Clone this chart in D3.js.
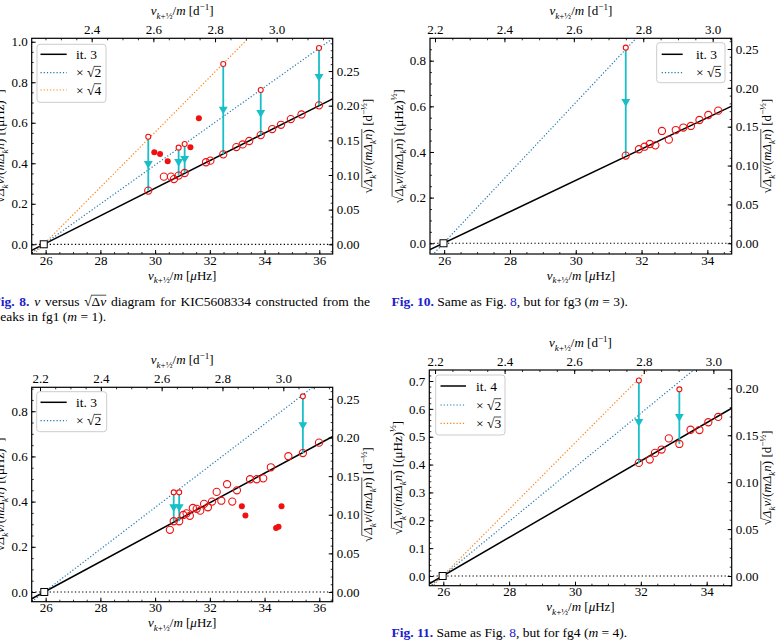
<!DOCTYPE html>
<html><head><meta charset="utf-8">
<script src="https://cdn.jsdelivr.net/npm/d3@7"></script>
<style>
body{margin:0;background:#fff;}
svg{display:block;}
</style></head><body>
<svg id="c" width="781" height="640"></svg>
<script>
// ---------- DATA ----------
// Fig. 8 : fg1 (m = 1)
const fg1OpenNu   = [29.75,30.32,30.58,30.69,30.86,31.08,31.86,32.02,32.49,32.97,33.20,33.44,33.86,34.28,34.60,34.96,35.35,35.99];
const fg1OpenY    = [0.265,0.334,0.334,0.322,0.339,0.352,0.405,0.413,0.444,0.480,0.493,0.510,0.539,0.569,0.590,0.618,0.641,0.686];
const fg1FilledNu = [29.97,30.18,30.46,31.29,31.60];
const fg1FilledY  = [0.454,0.446,0.410,0.479,0.622];
const fg1ArrowNu  = [29.75,30.86,31.08,32.49,33.86,35.99];
const fg1ArrowFrom= [0.531,0.477,0.495,0.890,0.762,0.969];
const fg1ArrowTo  = [0.265,0.339,0.352,0.444,0.539,0.686];
const fg1Fit      = {zero:25.93, slope:0.0680};
const fg1Mults    = [1,2,4];
const fg1Legend   = ["it. 3","2","4"];

// Fig. 10 : fg3 (m = 3)
const fg3OpenNu   = [31.52,31.92,32.09,32.25,32.42,32.62,32.83,33.04,33.27,33.50,33.76,34.03,34.33];
const fg3OpenY    = [0.384,0.412,0.423,0.435,0.429,0.492,0.454,0.496,0.507,0.514,0.540,0.562,0.581];
const fg3FilledNu = [];
const fg3FilledY  = [];
const fg3ArrowNu  = [31.52];
const fg3ArrowFrom= [0.857];
const fg3ArrowTo  = [0.384];
const fg3Fit      = {zero:25.98, slope:0.0686};
const fg3Mults    = [1,5];
const fg3Legend   = ["it. 3","5"];

// Fig. 9 : fg2 (m = 2)
const fg2OpenNu   = [30.54,30.68,30.88,31.03,31.15,31.27,31.38,31.52,31.65,31.79,31.93,32.08,32.25,32.42,32.63,32.82,32.99,33.47,33.71,33.95,34.23,34.87,35.40,35.99];
const fg2OpenY    = [0.275,0.313,0.313,0.341,0.348,0.337,0.372,0.368,0.360,0.390,0.375,0.400,0.443,0.404,0.477,0.400,0.450,0.499,0.499,0.503,0.552,0.601,0.615,0.661];
const fg2FilledNu = [33.17,33.30,34.42,34.51,34.62];
const fg2FilledY  = [0.379,0.338,0.283,0.289,0.379];
const fg2ArrowNu  = [30.68,30.88,35.40];
const fg2ArrowFrom= [0.441,0.441,0.866];
const fg2ArrowTo  = [0.313,0.313,0.615];
const fg2Fit      = {zero:25.95, slope:0.0653};
const fg2Mults    = [1,2];
const fg2Legend   = ["it. 3","2"];

// Fig. 11 : fg4 (m = 4)
const fg4OpenNu   = [31.94,32.27,32.43,32.63,32.85,33.17,33.51,33.78,34.05,34.35];
const fg4OpenY    = [0.406,0.418,0.442,0.454,0.494,0.474,0.525,0.524,0.552,0.571];
const fg4FilledNu = [];
const fg4FilledY  = [];
const fg4ArrowNu  = [31.94,33.17];
const fg4ArrowFrom= [0.702,0.670];
const fg4ArrowTo  = [0.406,0.474];
const fg4Fit      = {zero:25.98, slope:0.0686};
const fg4Mults    = [1,2,3];
const fg4Legend   = ["it. 4","2","3"];

// tick labels
const ticksBottomWide   = [26,28,30,32,34,36];
const ticksBottomNarrow = [26,28,30,32,34];
const ticksTop          = [2.2,2.4,2.6,2.8,3.0];
const ticksLeft10       = [0.0,0.2,0.4,0.6,0.8,1.0];
const ticksLeft08       = [0.0,0.2,0.4,0.6,0.8];
const ticksLeft07       = [0.0,0.1,0.2,0.3,0.4,0.5,0.6,0.7];
const ticksRight25      = [0.00,0.05,0.10,0.15,0.20,0.25];
const ticksRight20      = [0.00,0.05,0.10,0.15,0.20];

// ---------- STYLE ----------
const FONT = '"Liberation Serif","Times New Roman","DejaVu Serif",serif';
const FS = 13;
const RED = '#f01010', CYAN = '#19bfc7', BLUE_CAP = '#2020cc';
const LINE_COLORS = ['#000','#1f77b4','#ff7f0e'];

const svg = d3.select('#c');

function rich(parent, segs, fs, attrs) {
  const t = parent.append('text').attr('font-size', fs).attr('font-family', FONT).attr('fill', '#000');
  Object.entries(attrs || {}).forEach(([k, v]) => { if (k !== 'deferOL') t.attr(k, v); });
  let shift = 0, idx = 0, o0 = -1, o1 = -1;
  segs.forEach(s => {
    const sh = s.sub ? 0.3 * fs : s.sup ? -0.42 * fs : 0;
    const ts = t.append('tspan').text(s.t).attr('dy', sh - shift);
    shift = sh;
    if (s.i) ts.attr('font-style', 'italic');
    if (s.b) ts.attr('font-weight', 'bold');
    if (s.c) ts.attr('fill', s.c);
    if (s.sub || s.sup) ts.attr('font-size', fs * 0.7);
    if (s.ol) { if (o0 < 0) o0 = idx; o1 = idx + s.t.length - 1; }
    idx += s.t.length;
  });
  t.overline = () => {
    if (o0 < 0) return;
    const n = t.node();
    const xa = n.getStartPositionOfChar(o0).x, xb = n.getEndPositionOfChar(o1).x;
    parent.append('line').attr('x1', xa - 0.5).attr('x2', xb).attr('y1', -0.8 * fs).attr('y2', -0.8 * fs)
      .attr('stroke', '#000').attr('stroke-width', 0.7);
  };
  if (!attrs || !attrs.deferOL) t.overline();
  return t;
}

const radicand = [
  {t:'√'},{t:'Δ',i:1,ol:1},{t:'k',i:1,sub:1,ol:1},{t:'ν',i:1,ol:1},{t:'/(',ol:1},
  {t:'m',i:1,ol:1},{t:'Δ',i:1,ol:1},{t:'k',i:1,sub:1,ol:1},{t:'n',i:1,ol:1},{t:')',ol:1}];
const leftLab  = radicand.concat([{t:' [(μHz)'},{t:'½',sup:1},{t:']'}]);
const rightLab = radicand.concat([{t:' [d'},{t:'−½',sup:1},{t:']'}]);
const topLab = [{t:'ν',i:1},{t:'k',i:1,sub:1},{t:'+½',sub:1},{t:'/'},{t:'m',i:1},{t:' [d'},{t:'−1',sup:1},{t:']'}];
const botLab = [{t:'ν',i:1},{t:'k',i:1,sub:1},{t:'+½',sub:1},{t:'/'},{t:'m',i:1},{t:' ['},{t:'μ',i:1},{t:'Hz]'}];

function stepTicks(dom, step) {
  const a = Math.ceil(dom[0] / step - 1e-9), b = Math.floor(dom[1] / step + 1e-9);
  return d3.range(a, b + 1).map(i => +(i * step).toFixed(6));
}

function panel(c) {
  const {L, R, T, B} = c.box;
  const x  = d3.scaleLinear().domain(c.xDom).range([L, R]);
  const y  = d3.scaleLinear().domain(c.yDom).range([B, T]);
  const xt = d3.scaleLinear().domain(c.topDom).range([L, R]);
  const yr = d3.scaleLinear().domain(c.yDom.map(v => v * c.k)).range([B, T]);
  const cid = 'clip' + c.id;
  svg.append('clipPath').attr('id', cid).append('rect')
    .attr('x', L).attr('y', T).attr('width', R - L).attr('height', B - T);
  const g = svg.append('g').attr('clip-path', `url(#${cid})`);

  g.append('line').attr('x1', L).attr('x2', R).attr('y1', y(0)).attr('y2', y(0))
    .attr('stroke', '#000').attr('stroke-width', 1.2).attr('stroke-dasharray', '1.3,2.3');

  c.mults.forEach((m, i) => {
    const s = c.fit.slope * Math.sqrt(m);
    g.append('path').datum(c.xDom)
      .attr('d', d3.line().x(v => x(v)).y(v => y(s * (v - c.fit.zero))))
      .attr('fill', 'none').attr('stroke', LINE_COLORS[i])
      .attr('stroke-width', i ? 1.2 : 1.5).attr('stroke-dasharray', i ? '1.2,2' : null);
  });

  c.arrNu.forEach((nu, i) => {
    const X = x(nu), y1 = y(c.arrFrom[i]), y2 = y(c.arrTo[i]), ym = (y1 + y2) / 2;
    g.append('line').attr('x1', X).attr('x2', X).attr('y1', y1).attr('y2', y2)
      .attr('stroke', CYAN).attr('stroke-width', 1.8);
    g.append('path').attr('d', d3.symbol(d3.symbolTriangle, 34)())
      .attr('transform', `translate(${X},${ym}) rotate(180)`).attr('fill', CYAN);
  });

  g.selectAll(null).data(d3.zip(c.openNu, c.openY)).join('circle')
    .attr('cx', d => x(d[0])).attr('cy', d => y(d[1])).attr('r', 3.6)
    .attr('fill', 'none').attr('stroke', RED).attr('stroke-width', 1.1);
  g.selectAll(null).data(d3.zip(c.arrNu, c.arrFrom)).join('circle')
    .attr('cx', d => x(d[0])).attr('cy', d => y(d[1])).attr('r', 2.5)
    .attr('fill', '#fff').attr('stroke', RED).attr('stroke-width', 1.1);
  g.selectAll(null).data(d3.zip(c.filledNu, c.filledY)).join('circle')
    .attr('cx', d => x(d[0])).attr('cy', d => y(d[1])).attr('r', 3).attr('fill', RED);

  g.append('rect').attr('x', x(c.fit.zero) - 3.5).attr('y', y(0) - 3.5).attr('width', 7).attr('height', 7)
    .attr('fill', '#fff').attr('stroke', '#000').attr('stroke-width', 1);

  svg.append('rect').attr('x', L).attr('y', T).attr('width', R - L).attr('height', B - T)
    .attr('fill', 'none').attr('stroke', '#000').attr('stroke-width', 1.2);

  function ax(gen, tr, majors, minorStep, fmt, scale, pad) {
    const dom = scale.domain();
    svg.append('g').attr('transform', tr)
      .call(gen(scale).tickValues(stepTicks(dom, minorStep)).tickSize(-2).tickFormat(''))
      .call(s => s.select('.domain').remove())
      .selectAll('line').attr('stroke-width', 0.8);
    svg.append('g').attr('transform', tr)
      .call(gen(scale).tickValues(majors.filter(v => v >= dom[0] && v <= dom[1])).tickSize(-4).tickPadding(pad).tickFormat(fmt))
      .call(s => s.select('.domain').remove())
      .attr('font-size', FS).attr('font-family', FONT)
      .selectAll('line').attr('stroke-width', 1);
  }
  ax(d3.axisBottom, `translate(0,${B})`, c.bottomTicks, 0.5, d3.format('d'), x, 1.5);
  ax(d3.axisTop, `translate(0,${T})`, ticksTop, 0.05, d3.format('.1f'), xt, 4.5);
  ax(d3.axisLeft, `translate(${L},0)`, c.leftTicks, c.leftMinor, d3.format('.1f'), y, 4);
  ax(d3.axisRight, `translate(${R},0)`, c.rightTicks, 0.01, d3.format('.2f'), yr, 4);

  const cx = (L + R) / 2, cy = (T + B) / 2;
  rich(svg.append('g').attr('transform', `translate(${cx},${T - 23})`), topLab, FS, {'text-anchor': 'middle'});
  rich(svg.append('g').attr('transform', `translate(${cx},${B + 25.5})`), botLab, FS, {'text-anchor': 'middle'});
  rich(svg.append('g').attr('transform', `translate(${L - 27.5},${cy}) rotate(-90)`), leftLab, FS, {'text-anchor': 'middle'});
  rich(svg.append('g').attr('transform', `translate(${R + 39.5},${cy}) rotate(-90)`), rightLab, FS, {'text-anchor': 'middle'});

  // legend
  const lg = c.legend;
  svg.append('rect').attr('x', lg.x).attr('y', lg.y).attr('width', lg.w).attr('height', lg.h)
    .attr('rx', 3).attr('fill', '#fff').attr('fill-opacity', 0.85).attr('stroke', '#cccccc').attr('stroke-width', 1);
  c.legendLabels.forEach((lab, i) => {
    const ry = lg.rows[i];
    svg.append('line').attr('x1', lg.sx0).attr('x2', lg.sx1).attr('y1', ry).attr('y2', ry)
      .attr('stroke', LINE_COLORS[i]).attr('stroke-width', i ? 1.2 : 1.5).attr('stroke-dasharray', i ? '1.2,2' : null);
    const segs = i === 0 ? [{t: lab}] : [{t: '× √'}, {t: lab, ol: 1}];
    rich(svg.append('g').attr('transform', `translate(${lg.tx},${ry + 4.5})`), segs, FS + 0.5);
  });
}

panel({id:1, box:{L:31.7,R:332.7,T:38.3,B:254}, xDom:[25.49,36.49], yDom:[-0.048,1.017], topDom:[2.2054,3.1816], k:0.2923,
  openNu:fg1OpenNu, openY:fg1OpenY, filledNu:fg1FilledNu, filledY:fg1FilledY,
  arrNu:fg1ArrowNu, arrFrom:fg1ArrowFrom, arrTo:fg1ArrowTo, fit:fg1Fit, mults:fg1Mults, legendLabels:fg1Legend,
  bottomTicks:ticksBottomWide, leftTicks:ticksLeft10, leftMinor:0.05, rightTicks:ticksRight25,
  legend:{x:37,y:44.3,w:69,h:58,rows:[54.3,72.7,90],sx0:40.5,sx1:66.7,tx:76}});

panel({id:2, box:{L:430,R:731.7,T:38.3,B:254}, xDom:[25.57,34.74], yDom:[-0.047,0.898], topDom:[2.1856,3.0548], k:0.2937,
  openNu:fg3OpenNu, openY:fg3OpenY, filledNu:fg3FilledNu, filledY:fg3FilledY,
  arrNu:fg3ArrowNu, arrFrom:fg3ArrowFrom, arrTo:fg3ArrowTo, fit:fg3Fit, mults:fg3Mults, legendLabels:fg3Legend,
  bottomTicks:ticksBottomNarrow, leftTicks:ticksLeft08, leftMinor:0.05, rightTicks:ticksRight25,
  legend:{x:656.7,y:42.7,w:68.3,h:40,rows:[54.3,72.7],sx0:661.7,sx1:682.7,tx:696}});

panel({id:3, box:{L:31.7,R:332.7,T:387.3,B:601.7}, xDom:[25.49,36.49], yDom:[-0.043,0.906], topDom:[2.1727,3.1624], k:0.2925,
  openNu:fg2OpenNu, openY:fg2OpenY, filledNu:fg2FilledNu, filledY:fg2FilledY,
  arrNu:fg2ArrowNu, arrFrom:fg2ArrowFrom, arrTo:fg2ArrowTo, fit:fg2Fit, mults:fg2Mults, legendLabels:fg2Legend,
  bottomTicks:ticksBottomWide, leftTicks:ticksLeft08, leftMinor:0.05, rightTicks:ticksRight25,
  legend:{x:36.7,y:391.7,w:70,h:40,rows:[402.3,420.7],sx0:40.5,sx1:66.7,tx:76}});

panel({id:4, box:{L:429.3,R:731.7,T:370,B:585.7}, xDom:[25.575,34.76], yDom:[-0.0348,0.7395], topDom:[2.1835,3.0527], k:0.2969,
  openNu:fg4OpenNu, openY:fg4OpenY, filledNu:fg4FilledNu, filledY:fg4FilledY,
  arrNu:fg4ArrowNu, arrFrom:fg4ArrowFrom, arrTo:fg4ArrowTo, fit:fg4Fit, mults:fg4Mults, legendLabels:fg4Legend,
  bottomTicks:ticksBottomNarrow, leftTicks:ticksLeft07, leftMinor:0.02, rightTicks:ticksRight20,
  legend:{x:435.7,y:375,w:69.3,h:60,rows:[386,405,423.3],sx0:440.5,sx1:466,tx:476}});

// ---------- CAPTIONS ----------
const CFS = 13.5;
const c1 = rich(svg.append('g').attr('transform', 'translate(-7.5,306)'),
  [{t:'Fig. 8.',b:1,c:BLUE_CAP},{t:' '},{t:'ν',i:1},{t:' versus '},{t:'√'},{t:'Δ',ol:1},{t:'ν',i:1,ol:1},
   {t:' diagram for KIC5608334 constructed from the'}], CFS, {deferOL:1});
{
  const n = c1.node(), len = n.getComputedTextLength();
  const spaces = (n.textContent.match(/ /g) || []).length;
  const ws = Math.max(0, (377.5 - len) / spaces);
  c1.attr('word-spacing', ws);
  c1.overline();
}
rich(svg.append('g').attr('transform', 'translate(-6.5,321)'),
  [{t:'peaks in fg1 ('},{t:'m',i:1},{t:' = 1).'}], CFS);
rich(svg.append('g').attr('transform', 'translate(391.5,306)'),
  [{t:'Fig. 10.',b:1,c:BLUE_CAP},{t:' Same as Fig. '},{t:'8',c:BLUE_CAP},{t:', but for fg3 ('},{t:'m',i:1},{t:' = 3).'}], CFS);
rich(svg.append('g').attr('transform', 'translate(391.5,637)'),
  [{t:'Fig. 11.',b:1,c:BLUE_CAP},{t:' Same as Fig. '},{t:'8',c:BLUE_CAP},{t:', but for fg4 ('},{t:'m',i:1},{t:' = 4).'}], CFS);
</script>
</body></html>
